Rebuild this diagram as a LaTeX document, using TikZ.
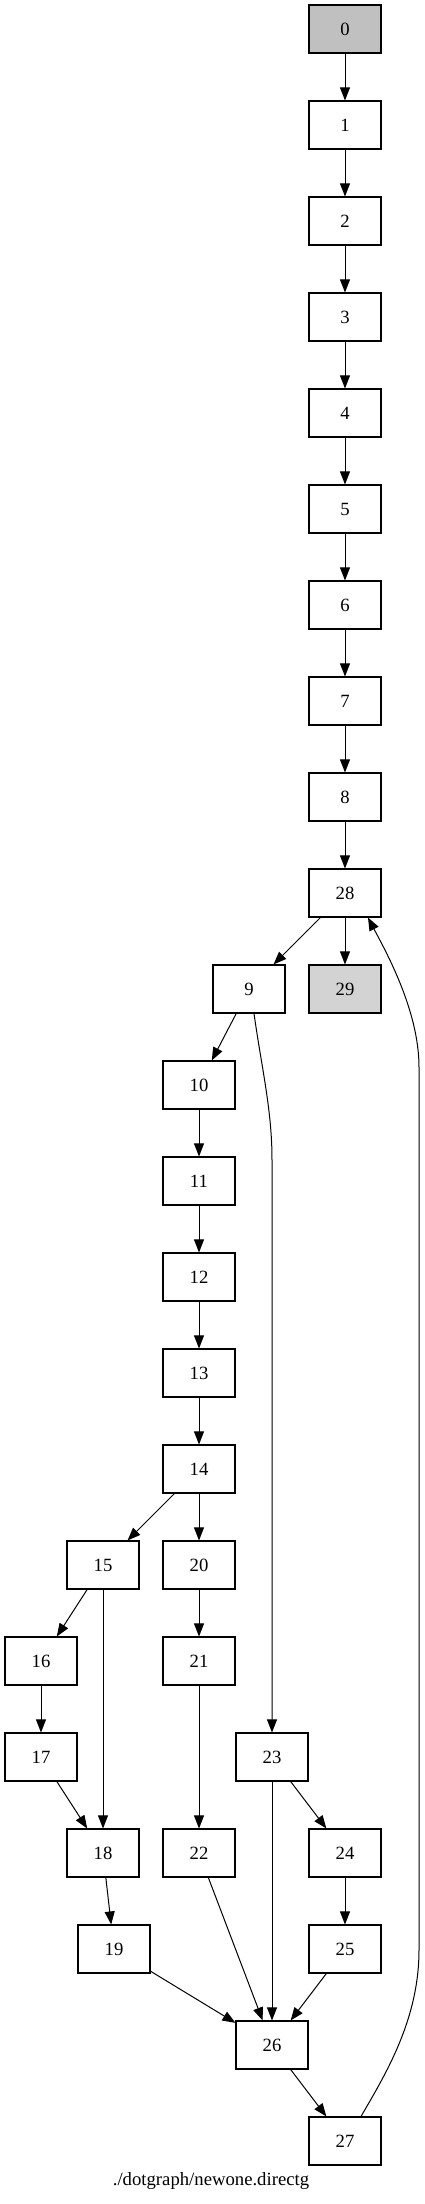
\documentclass[tikz,border=0pt]{standalone}
\usepackage{fontspec}
\setmainfont{Liberation Serif}
\usetikzlibrary{arrows.meta}
\definecolor{fillA}{HTML}{C0C0C0}
\definecolor{fillB}{HTML}{D3D3D3}
\begin{document}
\begin{tikzpicture}[x=1pt,y=-1pt,
  box/.style={draw=black,line width=1.1pt,minimum width=72pt,minimum height=48pt,inner sep=0pt,font=\fontsize{18.7}{22}\selectfont},
  edge/.style={draw=black,line width=1pt,-{Triangle[length=13pt,width=10pt]}}]
\useasboundingbox (0,0) rectangle (424,2204);
\node[box,fill=fillA] (n0) at (345,29) {0};
\node[box] (n1) at (345,125) {1};
\node[box] (n2) at (345,221) {2};
\node[box] (n3) at (345,317) {3};
\node[box] (n4) at (345,413) {4};
\node[box] (n5) at (345,509) {5};
\node[box] (n6) at (345,605) {6};
\node[box] (n7) at (345,701) {7};
\node[box] (n8) at (345,797) {8};
\node[box] (n28) at (345,893) {28};
\node[box] (n9) at (249,989) {9};
\node[box,fill=fillB] (n29) at (345,989) {29};
\node[box] (n10) at (199,1085) {10};
\node[box] (n11) at (199,1181) {11};
\node[box] (n12) at (199,1277) {12};
\node[box] (n13) at (199,1373) {13};
\node[box] (n14) at (199,1469) {14};
\node[box] (n15) at (103,1565) {15};
\node[box] (n20) at (199,1565) {20};
\node[box] (n16) at (41,1661) {16};
\node[box] (n21) at (199,1661) {21};
\node[box] (n17) at (41,1757) {17};
\node[box] (n23) at (272,1757) {23};
\node[box] (n18) at (103,1853) {18};
\node[box] (n22) at (199,1853) {22};
\node[box] (n24) at (345,1853) {24};
\node[box] (n19) at (114,1949) {19};
\node[box] (n25) at (345,1949) {25};
\node[box] (n26) at (272,2045) {26};
\node[box] (n27) at (345,2141) {27};
\node[font=\fontsize{18.7}{22}\selectfont] (lbl) at (211,2181) {./dotgraph/newone.directg};
\draw[edge] (n0) -- (n1);
\draw[edge] (n1) -- (n2);
\draw[edge] (n2) -- (n3);
\draw[edge] (n3) -- (n4);
\draw[edge] (n4) -- (n5);
\draw[edge] (n5) -- (n6);
\draw[edge] (n6) -- (n7);
\draw[edge] (n7) -- (n8);
\draw[edge] (n8) -- (n28);
\draw[edge] (n28) -- (n9);
\draw[edge] (n28) -- (n29);
\draw[edge] (n9) -- (n10);
\draw[edge] (n10) -- (n11);
\draw[edge] (n11) -- (n12);
\draw[edge] (n12) -- (n13);
\draw[edge] (n13) -- (n14);
\draw[edge] (n14) -- (n15);
\draw[edge] (n14) -- (n20);
\draw[edge] (n15) -- (n16);
\draw[edge] (n15) -- (n18);
\draw[edge] (n16) -- (n17);
\draw[edge] (n17) -- (n18);
\draw[edge] (n18) -- (n19);
\draw[edge] (n20) -- (n21);
\draw[edge] (n21) -- (n22);
\draw[edge] (n23) -- (n24);
\draw[edge] (n23) -- (n26);
\draw[edge] (n24) -- (n25);
\draw[edge] (n19) -- (n26);
\draw[edge] (n22) -- (n26);
\draw[edge] (n25) -- (n26);
\draw[edge] (n26) -- (n27);
\draw[edge] ([xshift=5pt]n9.south) .. controls (262,1070) and (272,1110) .. (272,1160) -- (n23.north);
\draw[edge] ([xshift=16pt]n27.north) .. controls (385,2075) and (419,2020) .. (419,1950) -- (419,1067) .. controls (419,1010) and (385,950) .. ([xshift=23pt]n28.south);
\end{tikzpicture}
\end{document}
